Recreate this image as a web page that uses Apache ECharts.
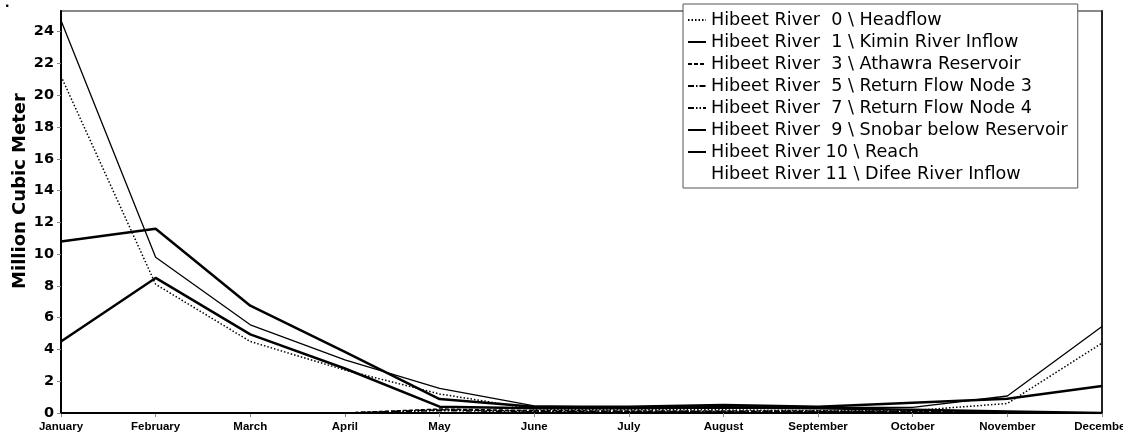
<!DOCTYPE html>
<html>
<head>
<meta charset="utf-8">
<script src="https://cdn.jsdelivr.net/npm/echarts@6/dist/echarts.min.js"></script>
<style>html,body{margin:0;padding:0;background:#fff;}#c{width:1123px;height:444px;}</style>
</head>
<body>
<div id="c"></div>
<script>
var months = ['January','February','March','April','May','June','July','August','September','October','November','December'];
var seriesNames = [
  'Hibeet River  0 \\ Headflow',
  'Hibeet River  1 \\ Kimin River Inflow',
  'Hibeet River  3 \\ Athawra Reservoir',
  'Hibeet River  5 \\ Return Flow Node 3',
  'Hibeet River  7 \\ Return Flow Node 4',
  'Hibeet River  9 \\ Snobar below Reservoir',
  'Hibeet River 10 \\ Reach',
  'Hibeet River 11 \\ Difee River Inflow'
];
var headflow = [21.2, 8.1, 4.5, 2.7, 1.2, 0.25, 0.2, 0.2, 0.15, 0.15, 0.6, 4.4];
var kimin    = [4.5, 8.5, 4.95, 2.8, 0.4, 0.3, 0.3, 0.35, 0.3, 0.2, 0.1, 0.0];
var athawra  = [0, 0, 0, 0, 0.25, 0.15, 0.12, 0.12, 0.12, 0.1, 0.05, 0];
var rfn3     = [0, 0, 0, 0, 0.2, 0.12, 0.1, 0.1, 0.1, 0.08, 0.03, 0];
var rfn4     = [0, 0, 0, 0, 0.15, 0.08, 0.06, 0.06, 0.06, 0.05, 0.02, 0];
var snobar   = [24.7, 9.8, 5.55, 3.35, 1.55, 0.45, 0.35, 0.4, 0.35, 0.35, 1.07, 5.45];
var reach    = [10.8, 11.6, 6.75, 3.85, 0.88, 0.4, 0.4, 0.5, 0.4, 0.65, 0.9, 1.7];
var difee    = [0, 0, 0, 0, 0, 0, 0, 0, 0, 0, 0, 0];
var yTicks = [0, 2, 4, 6, 8, 10, 12, 14, 16, 18, 20, 22, 24];

var dataSets = [headflow, kimin, athawra, rfn3, rfn4, snobar, reach, difee];
var styles = [
  {width: 1.5, type: [1.5, 2]},
  {width: 2.5, type: 'solid'},
  {width: 1.5, type: [4, 2]},
  {width: 1.5, type: [6, 2, 1.5, 2]},
  {width: 1.5, type: [6, 2, 1.5, 2, 1.5, 2]},
  {width: 1.3, type: 'solid'},
  {width: 2.5, type: 'solid'},
  {width: 1, type: 'solid', opacity: 0}
];

var chart = echarts.init(document.getElementById('c'), null, {renderer: 'canvas'});
var series = dataSets.map(function (d, i) {
  return {
    name: seriesNames[i],
    type: 'line',
    data: d,
    symbol: 'none',
    z: 10 - i,
    lineStyle: Object.assign({color: '#000'}, styles[i]),
    itemStyle: {color: '#000'}
  };
});

chart.setOption({
  animation: false,
  backgroundColor: '#fff',
  title: {text: '.', left: 0, top: -10, textStyle: {fontSize: 16, fontWeight: 'bold', color: '#000'}},
  grid: {left: 61, right: 21, top: 11, bottom: 31, show: true, borderColor: '#888', borderWidth: 2, outerBoundsMode: 'none', containLabel: false},
  legend: {
    orient: 'vertical',
    left: 683,
    top: 4,
    padding: [7, 10, 5, 4],
    itemWidth: 18,
    itemHeight: 14,
    itemGap: 4,
    backgroundColor: '#fff',
    borderColor: '#555',
    borderWidth: 1,
    borderRadius: 0,
    data: seriesNames,
    itemStyle: {color: 'rgba(0,0,0,0)', borderWidth: 0, opacity: 0},
    textStyle: {fontFamily: 'DejaVu Sans', fontSize: 17.6, color: '#000', lineHeight: 17, padding: [0, 0, 0, 0]}
  },
  graphic: [{
    type: 'text',
    x: 20, y: 191,
    rotation: Math.PI / 2,
    style: {text: 'Million Cubic Meter', fontFamily: 'DejaVu Sans', fontWeight: 'bold', fontSize: 18, fill: '#000', textAlign: 'center', textVerticalAlign: 'middle'}
  }],
  xAxis: {
    type: 'category',
    data: months,
    boundaryGap: false,
    axisLine: {lineStyle: {color: '#000', width: 2}},
    axisTick: {show: true, length: 4, lineStyle: {color: '#888'}},
    axisLabel: {fontFamily: 'Liberation Sans', fontWeight: 'bold', fontSize: 11.5, color: '#000', margin: 8, interval: 0}
  },
  yAxis: [{
    type: 'value',
    min: 0,
    max: 25.3,
    interval: 2,
    splitLine: {show: false},
    axisLine: {show: true, lineStyle: {color: '#000', width: 2}},
    axisTick: {show: true, length: 4, lineStyle: {color: '#888'}},
    axisLabel: {fontFamily: 'DejaVu Sans', fontWeight: 'bold', fontSize: 14.5, color: '#000', margin: 7, showMaxLabel: false,
      formatter: function (v) { return yTicks.indexOf(v) >= 0 ? String(v) : ''; }}
  }, {
    type: 'value',
    position: 'right',
    min: 0, max: 25.3,
    splitLine: {show: false},
    axisLine: {show: true, lineStyle: {color: '#000', width: 1.5}},
    axisTick: {show: false},
    axisLabel: {show: false}
  }],
  series: series
});
</script>
</body>
</html>
